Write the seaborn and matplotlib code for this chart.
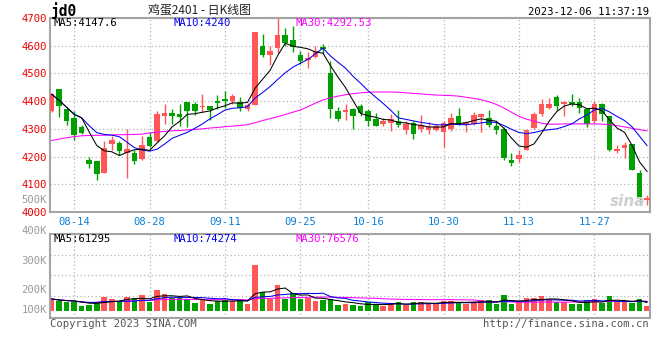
import numpy as np
import pandas as pd
import matplotlib
matplotlib.use("Agg")
import matplotlib.pyplot as plt
import seaborn as sns

# ---------------- data ----------------
dates = ["08-09", "08-10", "08-11", "08-14", "08-15", "08-16", "08-17", "08-18",
         "08-21", "08-22", "08-23", "08-24", "08-25", "08-28", "08-29", "08-30",
         "08-31", "09-01", "09-04", "09-05", "09-06", "09-07", "09-08", "09-11",
         "09-12", "09-13", "09-14", "09-15", "09-18", "09-19", "09-20", "09-21",
         "09-22", "09-25", "09-26", "09-27", "09-28", "10-09", "10-10", "10-11",
         "10-12", "10-13", "10-16", "10-17", "10-18", "10-19", "10-20", "10-23",
         "10-24", "10-25", "10-26", "10-27", "10-30", "10-31", "11-01", "11-02",
         "11-03", "11-06", "11-07", "11-08", "11-09", "11-10", "11-13", "11-14",
         "11-15", "11-16", "11-17", "11-20", "11-21", "11-22", "11-23", "11-24",
         "11-27", "11-28", "11-29", "11-30", "12-01", "12-04", "12-05", "12-06"]

opens = [4363, 4444, 4372, 4340, 4307, 4187, 4183, 4142, 4244, 4249,
         4213, 4213, 4193, 4271, 4255, 4348, 4358, 4352, 4398, 4388,
         4378, 4382, 4400, 4407, 4400, 4398, 4370, 4386, 4600, 4565,
         4590, 4640, 4620, 4566, 4549, 4560, 4597, 4502, 4366, 4360,
         4372, 4382, 4363, 4335, 4318, 4322, 4328, 4297, 4321, 4298,
         4297, 4295, 4289, 4300, 4346, 4315, 4318, 4342, 4339, 4312,
         4300, 4187, 4193, 4225, 4303, 4352, 4376, 4414, 4390, 4397,
         4397, 4372, 4330, 4388, 4348, 4219, 4232, 4247, 4141, 4045]
closes = [4425, 4381, 4328, 4277, 4286, 4172, 4137, 4232, 4259, 4219,
          4229, 4183, 4243, 4237, 4354, 4358, 4345, 4341, 4363, 4366,
          4384, 4369, 4395, 4402, 4420, 4376, 4385, 4650, 4565, 4582,
          4640, 4608, 4596, 4544, 4557, 4582, 4587, 4370, 4336, 4369,
          4345, 4359, 4327, 4309, 4330, 4335, 4315, 4318, 4280, 4315,
          4307, 4311, 4321, 4340, 4313, 4325, 4351, 4352, 4315, 4295,
          4196, 4177, 4207, 4295, 4354, 4390, 4390, 4381, 4397, 4391,
          4376, 4319, 4390, 4354, 4223, 4229, 4241, 4153, 4055, 4052]
highs = [4428, 4444, 4375, 4366, 4313, 4199, 4183, 4255, 4273, 4255,
         4298, 4223, 4276, 4290, 4364, 4390, 4372, 4390, 4398, 4396,
         4426, 4382, 4423, 4435, 4426, 4414, 4392, 4650, 4642, 4598,
         4700, 4665, 4670, 4582, 4578, 4598, 4605, 4545, 4378, 4390,
         4374, 4390, 4372, 4357, 4340, 4354, 4369, 4328, 4328, 4351,
         4324, 4318, 4330, 4357, 4375, 4328, 4360, 4357, 4369, 4328,
         4306, 4213, 4225, 4297, 4360, 4408, 4412, 4423, 4400, 4426,
         4412, 4372, 4400, 4393, 4348, 4241, 4253, 4247, 4151, 4062]
lows = [4360, 4343, 4315, 4261, 4282, 4160, 4115, 4142, 4223, 4205,
        4121, 4172, 4188, 4233, 4252, 4318, 4318, 4309, 4306, 4351,
        4360, 4333, 4372, 4375, 4390, 4364, 4366, 4386, 4558, 4530,
        4575, 4598, 4578, 4535, 4518, 4556, 4570, 4340, 4330, 4333,
        4300, 4348, 4310, 4309, 4312, 4291, 4307, 4280, 4265, 4288,
        4282, 4291, 4235, 4294, 4313, 4289, 4313, 4289, 4307, 4280,
        4187, 4165, 4181, 4223, 4300, 4348, 4370, 4367, 4345, 4384,
        4357, 4306, 4322, 4330, 4219, 4213, 4196, 4151, 4029, 4025]
volumes = [94000, 78000, 72500, 68000, 39000, 47000, 72500, 109000, 94000, 68000,
           109000, 99000, 125000, 72500, 164000, 133000, 99000, 99000, 94000, 65000,
           91000, 55000, 80000, 86000, 78000, 94000, 55000, 359000, 150000, 90000,
           203000, 94000, 143000, 90000, 99000, 78000, 85000, 94000, 47000, 52000,
           47000, 41000, 68000, 52000, 41000, 60000, 68000, 47000, 68000, 72500,
           52000, 60000, 78000, 78000, 68000, 52000, 72500, 86000, 83000, 57000,
           125000, 57000, 68000, 99000, 99000, 117000, 86000, 68000, 68000, 57000,
           57000, 83000, 94000, 60000, 117000, 68000, 68000, 60000, 94000, 39000]
# 30-day price average as drawn on the chart (history before 08-09 is not shown)
ma30_price = [4258, 4263, 4268, 4272, 4275, 4276, 4277, 4277, 4278, 4279,
              4279, 4280, 4281, 4285, 4288, 4291, 4293, 4294, 4296, 4298,
              4300, 4303, 4305, 4308, 4310, 4312, 4315, 4322, 4330, 4337,
              4344, 4352, 4360, 4368, 4380, 4393, 4404, 4412, 4418, 4423,
              4427, 4430, 4432, 4433, 4433, 4433, 4432, 4430, 4428, 4426,
              4424, 4422, 4421, 4420, 4418, 4414, 4410, 4405, 4398, 4388,
              4375, 4360, 4345, 4335, 4328, 4320, 4317, 4317, 4318, 4318,
              4318, 4318, 4318, 4317, 4315, 4312, 4307, 4302, 4297, 4293]

tick_dates = ["08-14", "08-28", "09-11", "09-25", "10-16", "10-30", "11-13", "11-27"]
price_ticks = [4000, 4100, 4200, 4300, 4400, 4500, 4600, 4700]

title = "鸡蛋2401 - 日K线图"
symbol = "jd0"
stamp = "2023-12-06 11:37:19"
ma_labels = ["MA5:4147.6", "MA10:4240", "MA30:4292.53"]
vol_ma_labels = ["MA5:61295", "MA10:74274", "MA30:76576"]
vol_axis_labels = ["400K", "300K", "200K", "100K"]

# ---------------- style ----------------
sns.set_style("white")
plt.rcParams["font.family"] = ["DejaVu Sans Mono", "Noto Sans CJK SC"]

W, H = 660, 360
RED = "#ff5656"
GREEN = "#00a000"
BLUE_TXT = "#0a80d8"
GRID = "#b4b4b4"
SPINE = "#a4a4a4"
MONO = "DejaVu Sans Mono"
LW = 0.75

df = pd.DataFrame({"date": dates, "open": opens, "close": closes,
                   "high": highs, "low": lows, "vol": volumes,
                   "ma30": ma30_price})
df["x"] = np.arange(len(df))
df["ma5"] = df["close"].rolling(5, min_periods=1).mean()
df["ma10"] = df["close"].rolling(10, min_periods=1).mean()
df["vma5"] = df["vol"].rolling(5, min_periods=1).mean()
df["vma10"] = df["vol"].rolling(10, min_periods=1).mean()
df["vma30"] = df["vol"].rolling(30, min_periods=1).mean()
up = df["close"] >= df["open"]
colors = np.where(up, RED, GREEN)

fig = plt.figure(figsize=(6.6, 3.6), dpi=100)
ax = fig.add_axes([50 / W, 1 - 212 / H, 600 / W, 194 / H])
axv = fig.add_axes([50 / W, 1 - 318 / H, 600 / W, 84 / H])

step = 7.54
x0 = -(51.5 - 50) / step
xlim = (x0, x0 + 600 / step)
tick_pos = [dates.index(d) for d in tick_dates]

# ---------------- price panel ----------------
ax.set_axisbelow(True)
ax.vlines(df["x"], df["low"], df["high"], colors=colors, lw=1.0, zorder=2)
body_bottom = np.minimum(df["open"], df["close"])
body_h = np.maximum((df["close"] - df["open"]).abs(), 3)
ax.bar(df["x"], body_h, bottom=body_bottom, width=0.74, color=colors,
       linewidth=0, zorder=3)
sns.lineplot(data=df, x="x", y="ma30", ax=ax, color="#ff00ff", lw=LW, zorder=4)
sns.lineplot(data=df, x="x", y="ma10", ax=ax, color="#0000ee", lw=LW, zorder=4)
sns.lineplot(data=df, x="x", y="ma5", ax=ax, color="black", lw=LW, zorder=5)
ax.set_xlim(*xlim)
ax.set_ylim(4000, 4700)
ax.set_xlabel("")
ax.set_ylabel("")
ax.set_xticks(tick_pos)
ax.set_xticklabels(tick_dates, color=BLUE_TXT, fontsize=7.6, family=MONO)
ax.set_yticks(price_ticks)
ax.set_yticklabels([str(v) for v in price_ticks], color="#e80000",
                   fontsize=7.6, family=MONO)
ax.tick_params(axis="both", length=0)
ax.tick_params(axis="x", pad=3.5)
ax.tick_params(axis="y", pad=2.5)
ax.grid(True, ls=(0, (1, 2)), color=GRID, lw=0.9)
for s in ax.spines.values():
    s.set_color(SPINE)
    s.set_linewidth(1.5)

# labels inside price panel
for lab, xp, col in zip(ma_labels, [53, 174, 295], ["black", "#0000ee", "#ff00ff"]):
    fig.text(xp / W, 1 - 23.5 / H, lab, color=col, fontsize=7.6, family=MONO,
             ha="left", va="center")
fig.text(47 / W, 1 - 200 / H, "500K", color="#9a9a9a", fontsize=7.6,
         family=MONO, ha="right", va="center")
fig.text(628 / W, 1 - 201 / H, "sina", color="#cfcfcf", fontsize=11,
         fontweight="bold", style="italic", family="DejaVu Sans",
         ha="center", va="center")

# ---------------- volume panel ----------------
px_per_unit = 7800.0
vlo = -(318 - 311) * px_per_unit
vhi = (311 - 234) * px_per_unit
axv.set_axisbelow(True)
axv.bar(df["x"], df["vol"], width=0.74, color=colors, linewidth=0, zorder=2)
sns.lineplot(data=df, x="x", y="vma30", ax=axv, color="#ff00ff", lw=LW, zorder=4)
sns.lineplot(data=df, x="x", y="vma10", ax=axv, color="#0000ee", lw=LW, zorder=4)
sns.lineplot(data=df, x="x", y="vma5", ax=axv, color="black", lw=LW, zorder=5)
axv.set_xlim(*xlim)
axv.set_ylim(vlo, vhi)
axv.set_xlabel("")
axv.set_ylabel("")
axv.set_xticks([])
axv.set_yticks([])
for fr in (0.262, 0.512, 0.75):
    axv.axhline(vlo + fr * (vhi - vlo), ls=(0, (1, 2)), color=GRID, lw=0.9, zorder=0)
for p in tick_pos:
    axv.axvline(p, ls=(0, (1, 2)), color=GRID, lw=0.9, zorder=0)
for s in axv.spines.values():
    s.set_color(SPINE)
    s.set_linewidth(1.5)

for lab, xp, col in zip(vol_ma_labels, [53, 174, 295], ["black", "#0000ee", "#ff00ff"]):
    fig.text(xp / W, 1 - 238.5 / H, lab, color=col, fontsize=7.6, family=MONO,
             ha="left", va="center")
for lab, yp in zip(vol_axis_labels, [231, 261, 290, 310]):
    fig.text(47 / W, 1 - yp / H, lab, color="#9a9a9a", fontsize=7.6,
             family=MONO, ha="right", va="center")

# ---------------- header / footer ----------------
fig.text(51 / W, 1 - 11 / H, symbol, color="black", fontsize=10.5,
         fontweight="bold", family=MONO, ha="left", va="center")
fig.text(200 / W, 1 - 10.5 / H, title, color="#222222", fontsize=8.6,
         family=["Noto Sans CJK SC", "DejaVu Sans"], ha="center", va="center")
fig.text(649 / W, 1 - 12 / H, stamp, color="black", fontsize=7.6,
         family=MONO, ha="right", va="center")
fig.text(50 / W, 1 - 324 / H, "Copyright 2023 SINA.COM", color="#555555",
         fontsize=7.6, family=MONO, ha="left", va="center")
fig.text(649 / W, 1 - 324 / H, "http://finance.sina.com.cn", color="#555555",
         fontsize=7.6, family=MONO, ha="right", va="center")

fig.savefig("out.png", dpi=100)
